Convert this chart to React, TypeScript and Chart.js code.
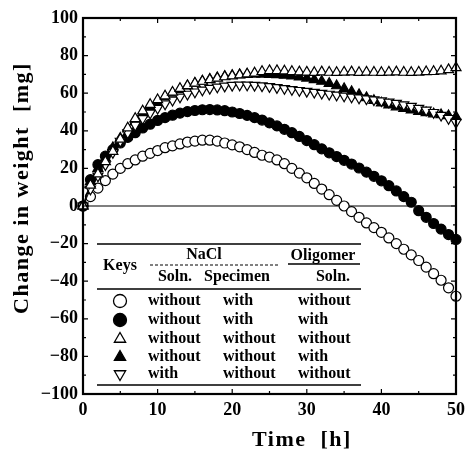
import React, { useEffect, useRef } from 'react';
import { Chart, registerables } from 'chart.js';

Chart.register(...registerables);

const hours = [0, 1, 2, 3, 4, 5, 6, 7, 8, 9, 10, 11, 12, 13, 14, 15, 16, 17, 18, 19, 20, 21, 22, 23, 24, 25, 26, 27, 28, 29, 30, 31, 32, 33, 34, 35, 36, 37, 38, 39, 40, 41, 42, 43, 44, 45, 46, 47, 48, 49, 50];

// without NaCl soln, with NaCl specimen, without oligomer
const openCircle = [0, 5, 9.5, 13.5, 17, 20, 22.5, 24.5, 26.5, 28, 29.5, 31, 32, 33, 34, 34.5, 35, 35, 34.5, 33.5, 32.5, 31.5, 30, 28.5, 27, 26, 24.5, 22.5, 20, 17.5, 15, 12, 9, 6, 3, 0, -3, -6, -9, -11.5, -14, -17, -20, -23, -26, -29, -32.5, -36, -39.5, -43.5, -48];
// without NaCl soln, with NaCl specimen, with oligomer
const filledCircle = [0, 14, 22, 26.5, 30, 33.5, 36.5, 39, 41.5, 43.5, 45.5, 47, 48.3, 49.4, 50.2, 50.8, 51.2, 51.3, 51.1, 50.7, 50, 49.2, 48.2, 47, 45.7, 44.2, 42.6, 40.8, 39, 37, 34.8, 32.6, 30.4, 28.3, 26.3, 24.3, 22.3, 20.2, 18, 15.8, 13.4, 10.8, 8, 5, 2, -2.5, -6, -9.3, -12.3, -15.2, -17.8];
// without, without, without
const openUp = [0, 11, 17, 23.5, 29, 35.5, 41.5, 46.5, 50.5, 54, 56.5, 58.5, 60.5, 62.5, 64, 65.3, 66.3, 67.2, 68, 68.7, 69.2, 69.7, 70.2, 70.7, 71.5, 72, 72, 71.8, 71.5, 71.3, 71.2, 71.0, 71.3, 71.1, 71.0, 71.2, 71.3, 71.0, 71.2, 71.1, 71.0, 71.2, 71.3, 71.1, 71.0, 71.2, 71.4, 71.5, 71.8, 72.5, 73.5];
// without, without, with
const filledUp = [0, 13, 20, 25.5, 31, 36, 41, 45, 49, 52.5, 55.5, 58, 60, 62, 63.8, 65.2, 66.4, 67.4, 68.2, 68.9, 69.4, 69.8, 70, 70.1, 70.1, 70, 69.8, 69.5, 69.1, 68.6, 68, 67.2, 66.3, 65.2, 63.9, 62.4, 60.8, 59.2, 57.6, 56.1, 54.8, 53.7, 52.7, 51.8, 51, 50.3, 49.6, 49, 48.5, 48, 47.5];
// with, without, without
const openDown = [0, 9, 16, 22, 28.5, 34.5, 39, 43, 46.5, 49.5, 52, 54.3, 56.3, 58, 59.5, 60.7, 61.7, 62.6, 63.3, 63.8, 64.2, 64.4, 64.4, 64.2, 63.9, 63.5, 63, 62.5, 62, 61.5, 61, 60.5, 60, 59.5, 59, 58.5, 58, 57.5, 57, 56.5, 56, 55.3, 54.6, 53.8, 53, 52, 51, 49.8, 48.3, 46.6, 44.5];

const xTickValues = [0, 10, 20, 30, 40, 50];
const yTickValues = [-100, -80, -60, -40, -20, 0, 20, 40, 60, 80, 100];

const xTitle = 'Time  [h]';
const yTitle = 'Change in weight  [mg]';

const legendHeaderTop = ['NaCl', 'Oligomer'];
const legendHeaderSub = ['Soln.', 'Specimen', 'Soln.'];
const legendKeysLabel = 'Keys';
const legendSymbols = ['openCircle', 'filledCircle', 'openUp', 'filledUp', 'openDown'];
const legendNaClSoln = ['without', 'without', 'without', 'without', 'with'];
const legendNaClSpecimen = ['with', 'with', 'without', 'without', 'without'];
const legendOligomerSoln = ['without', 'with', 'without', 'with', 'without'];

const FONT = "'Liberation Serif', 'Times New Roman', serif";

function drawSymbol(ctx: CanvasRenderingContext2D, kind: string, x: number, y: number, r: number) {
  ctx.save();
  ctx.lineWidth = 1.3;
  ctx.strokeStyle = '#000';
  ctx.fillStyle = kind.startsWith('filled') ? '#000' : '#fff';
  ctx.beginPath();
  if (kind.endsWith('Circle')) {
    ctx.arc(x, y, r, 0, Math.PI * 2);
  } else {
    const dir = kind.endsWith('Down') ? -1 : 1;
    const s = Math.sin(Math.PI / 3) * r;
    ctx.moveTo(x, y - dir * r);
    ctx.lineTo(x + s, y + dir * r * 0.5);
    ctx.lineTo(x - s, y + dir * r * 0.5);
    ctx.closePath();
  }
  ctx.fill();
  ctx.stroke();
  ctx.restore();
}

const decorPlugin = {
  id: 'decor',
  beforeDatasetsDraw(chart: any) {
    const { ctx, chartArea: ca, scales } = chart;
    const y0 = scales.y.getPixelForValue(0);
    ctx.save();
    ctx.strokeStyle = '#000';
    ctx.lineWidth = 1.2;
    ctx.beginPath();
    ctx.moveTo(ca.left, y0);
    ctx.lineTo(ca.right, y0);
    ctx.stroke();
    ctx.restore();
  },
  afterDatasetsDraw(chart: any) {
    const { ctx, chartArea: ca, scales } = chart;
    ctx.save();
    ctx.strokeStyle = '#000';
    ctx.lineWidth = 1.2;
    ctx.beginPath();
    for (let v = 0; v <= 50; v += 5) {
      const px = scales.x.getPixelForValue(v);
      const len = v % 10 === 0 ? 5 : 3;
      ctx.moveTo(px, ca.bottom);
      ctx.lineTo(px, ca.bottom - len);
      ctx.moveTo(px, ca.top);
      ctx.lineTo(px, ca.top + len);
    }
    for (let v = -100; v <= 100; v += 10) {
      const py = scales.y.getPixelForValue(v);
      const len = v % 20 === 0 ? 5 : 3;
      ctx.moveTo(ca.left, py);
      ctx.lineTo(ca.left + len, py);
      ctx.moveTo(ca.right, py);
      ctx.lineTo(ca.right - len, py);
    }
    ctx.stroke();
    ctx.lineWidth = 2.2;
    ctx.strokeRect(ca.left, ca.top, ca.right - ca.left, ca.bottom - ca.top);
    ctx.restore();
  },
  afterDraw(chart: any) {
    const { ctx, chartArea: ca } = chart;
    const L = ca.left;
    const T = ca.top;
    ctx.save();
    ctx.fillStyle = '#000';
    ctx.strokeStyle = '#000';

    // axis titles
    ctx.font = `bold 22px ${FONT}`;
    (ctx as any).letterSpacing = '1.5px';
    ctx.textAlign = 'center';
    ctx.textBaseline = 'middle';
    ctx.fillText(xTitle, 302, 440);
    ctx.save();
    ctx.translate(22, 188);
    ctx.rotate(-Math.PI / 2);
    ctx.fillText(yTitle, 0, 0);
    ctx.restore();
    (ctx as any).letterSpacing = '0px';

    // legend table lines
    const x1 = L + 14;
    const x2 = L + 278;
    ctx.lineWidth = 1.6;
    ctx.beginPath();
    ctx.moveTo(x1, T + 226);
    ctx.lineTo(x2, T + 226);
    ctx.moveTo(x1, T + 367);
    ctx.lineTo(x2, T + 367);
    ctx.stroke();
    ctx.lineWidth = 1.3;
    ctx.beginPath();
    ctx.moveTo(x1, T + 271);
    ctx.lineTo(x2, T + 271);
    ctx.moveTo(L + 205, T + 246);
    ctx.lineTo(L + 277, T + 246);
    ctx.stroke();
    ctx.save();
    ctx.setLineDash([3, 2]);
    ctx.lineWidth = 1;
    ctx.beginPath();
    ctx.moveTo(L + 67, T + 247);
    ctx.lineTo(L + 197, T + 247);
    ctx.stroke();
    ctx.restore();

    // legend headers
    ctx.font = `bold 16px ${FONT}`;
    ctx.textAlign = 'center';
    ctx.textBaseline = 'middle';
    ctx.fillText(legendKeysLabel, L + 37, T + 248);
    ctx.fillText(legendHeaderTop[0], L + 121, T + 237);
    ctx.fillText(legendHeaderTop[1], L + 240, T + 238);
    ctx.fillText(legendHeaderSub[0], L + 92, T + 259);
    ctx.fillText(legendHeaderSub[1], L + 154, T + 259);
    ctx.fillText(legendHeaderSub[2], L + 250, T + 259);

    // legend rows
    const rowY = [283, 302, 321, 339, 356];
    ctx.textAlign = 'left';
    for (let i = 0; i < legendSymbols.length; i++) {
      const y = T + rowY[i];
      drawSymbol(ctx, legendSymbols[i], L + 37, y, 6.5);
      ctx.fillText(legendNaClSoln[i], L + 65, y);
      ctx.fillText(legendNaClSpecimen[i], L + 140, y);
      ctx.fillText(legendOligomerSoln[i], L + 215, y);
    }
    ctx.restore();
  },
};

function pts(vals: number[]) {
  return hours.map((h, i) => ({ x: h, y: vals[i] }));
}

export default function App() {
  const ref = useRef<HTMLCanvasElement | null>(null);
  useEffect(() => {
    if (!ref.current) return;
    const common = {
      pointBorderColor: '#000',
      pointBorderWidth: 1.2,
      borderColor: '#000',
      clip: false as any,
    };
    const chart = new Chart(ref.current, {
      type: 'line',
      data: {
        datasets: [
          { ...common, label: 'openUp', data: pts(openUp), pointStyle: 'triangle', pointRadius: 5.8, pointBackgroundColor: '#fff', showLine: true, borderWidth: 1, order: 1 },
          { ...common, label: 'openDown', data: pts(openDown), pointStyle: 'triangle', pointRotation: 180, pointRadius: 5.8, pointBackgroundColor: '#fff', showLine: true, borderWidth: 1, order: 2 },
          { ...common, label: 'filledUp', data: pts(filledUp), pointStyle: 'triangle', pointRadius: 5.8, pointBackgroundColor: '#000', showLine: true, borderWidth: 1, order: 3 },
          { ...common, label: 'filledCircle', data: pts(filledCircle), pointStyle: 'circle', pointRadius: 5, pointBackgroundColor: '#000', showLine: false, order: 4 },
          { ...common, label: 'openCircle', data: pts(openCircle), pointStyle: 'circle', pointRadius: 5, pointBackgroundColor: '#fff', showLine: false, order: 5 },
        ],
      },
      options: {
        animation: false,
        responsive: false,
        events: [],
        layout: { padding: { left: 0, right: 11, top: 18, bottom: 0 } },
        plugins: { legend: { display: false }, tooltip: { enabled: false }, title: { display: false } },
        scales: {
          x: {
            type: 'linear',
            min: 0,
            max: 50,
            afterFit: (s: any) => { s.height = 65; },
            afterBuildTicks: (s: any) => { s.ticks = xTickValues.map((v) => ({ value: v })); },
            grid: { display: false, drawTicks: false },
            border: { display: false },
            ticks: { color: '#000', padding: 6, font: { family: FONT, size: 18, weight: 'bold' } },
          },
          y: {
            type: 'linear',
            min: -100,
            max: 100,
            afterFit: (s: any) => { s.width = 83; },
            afterBuildTicks: (s: any) => { s.ticks = yTickValues.map((v) => ({ value: v })); },
            grid: { display: false, drawTicks: false },
            border: { display: false },
            ticks: {
              color: '#000',
              padding: 5,
              font: { family: FONT, size: 18, weight: 'bold' },
              callback: (v: any) => (Number(v) < 0 ? '\u2212' + Math.abs(Number(v)) : String(v)),
            },
          },
        },
      },
      plugins: [decorPlugin],
    });
    return () => chart.destroy();
  }, []);
  return (
    <div style={{ position: 'fixed', left: 0, top: 0, width: 471, height: 459, background: '#fff' }}>
      <canvas ref={ref} width={471} height={459} style={{ display: 'block' }} />
    </div>
  );
}
